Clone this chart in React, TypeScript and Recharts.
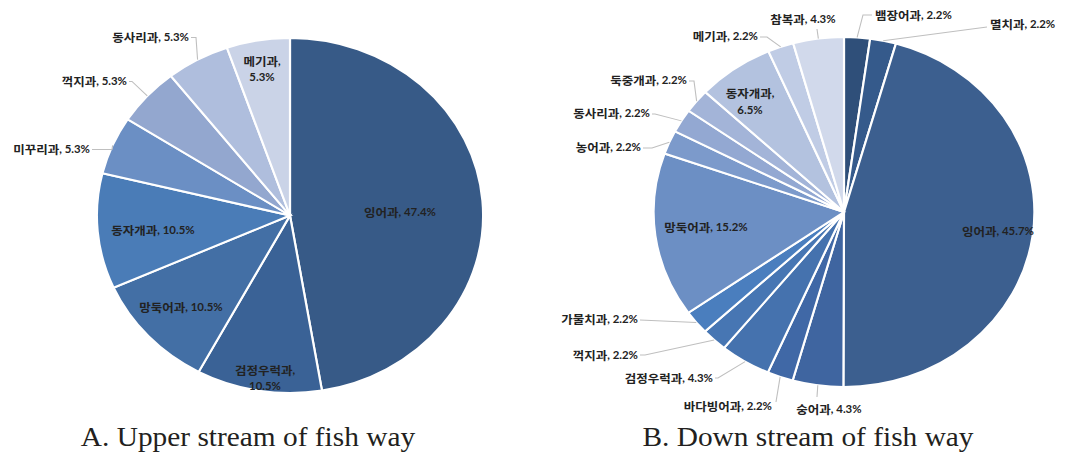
import { PieChart, Pie, Cell } from 'recharts';

// the figure is drawn narrow and stretched sideways, so the pies come out oval
const STRETCH = 1.088;
const FULL_W = 1066;
const FULL_H = 454;
const W = FULL_W / STRETCH;

const upperNames = ['잉어과', '검정우럭과', '망둑어과', '동자개과', '미꾸리과', '꺽지과', '동사리과', '메기과'];
const upperValues = [47.4, 10.5, 10.5, 10.5, 5.3, 5.3, 5.3, 5.3];
const upperColors = ['#375A87', '#3A6296', '#436FA5', '#4A7CB7', '#6B8FC4', '#93A7CF', '#AFBEDD', '#CAD3E7'];

const downNames = [
  '뱀장어과', '멸치과', '잉어과', '숭어과', '바다빙어과', '검정우럭과', '꺽지과', '가물치과',
  '망둑어과', '농어과', '동사리과', '둑중개과', '동자개과', '메기과', '참복과',
];
const downValues = [2.2, 2.2, 45.7, 4.3, 2.2, 4.3, 2.2, 2.2, 15.2, 2.2, 2.2, 2.2, 6.5, 2.2, 4.3];
const downColors = [
  '#2F4F79', '#355A8B', '#3C5F8F', '#3F65A0', '#4068A6', '#4572AE', '#4776B3', '#4A7EBE',
  '#6C8FC4', '#7C9ACB', '#93A8D2', '#A3B4D8', '#B3C2DF', '#C0CCE5', '#D1D9EB',
];

const titles = ['A. Upper stream of fish way', 'B. Down stream of fish way'];

type Spot = {
  x: number;
  y: number;
  anchor: 'start' | 'middle' | 'end';
  twoLine?: boolean;
  path?: [number, number][];
};

// label placement, in page pixels from the pie centre
const upperSpots: Spot[] = [
  { x: 110, y: -4, anchor: 'middle' },
  { x: -25, y: 162, anchor: 'middle', twoLine: true },
  { x: -109, y: 91, anchor: 'middle' },
  { x: -137, y: 14, anchor: 'middle' },
  { x: -200, y: -67, anchor: 'end', path: [[-178, -66], [-198, -66]] },
  { x: -163, y: -135, anchor: 'end', path: [[-158, -134], [-161, -134]] },
  { x: -101, y: -179, anchor: 'end', path: [[-94, -178], [-99, -178]] },
  { x: -28, y: -147, anchor: 'middle', twoLine: true },
];

const downSpots: Spot[] = [
  { x: 31, y: -198, anchor: 'start', path: [[19, -197], [28, -197]] },
  { x: 146, y: -189, anchor: 'start', path: [[143, -185]] },
  { x: 154, y: 18, anchor: 'middle' },
  { x: -15, y: 196, anchor: 'middle', path: [[-27, 185]] },
  { x: -72, y: 193, anchor: 'end', path: [[-68, 190]] },
  { x: -131, y: 165, anchor: 'end', path: [[-126, 166], [-129, 166]] },
  { x: -206, y: 142, anchor: 'end', path: [[-199, 143], [-204, 143]] },
  { x: -206, y: 106, anchor: 'end', path: [[-204, 108]] },
  { x: -138, y: 14, anchor: 'middle' },
  { x: -203, y: -66, anchor: 'end', path: [[-192, -64], [-201, -64]] },
  { x: -194, y: -100, anchor: 'end', path: [[-189, -98], [-192, -98]] },
  { x: -157, y: -133, anchor: 'end', path: [[-150, -131], [-155, -131]] },
  { x: -94, y: -111, anchor: 'middle', twoLine: true },
  { x: -86, y: -177, anchor: 'end', path: [[-77, -175], [-84, -175]] },
  { x: -41, y: -194, anchor: 'middle', path: [[-27, -183]] },
];

const RAD = Math.PI / 180;
const nameFont = { fontFamily: "'Noto Sans CJK KR', sans-serif", fontSize: 11.5 };
const numFont = { fontFamily: 'Lato, sans-serif', fontSize: 10.5 };

function makeLabel(names: string[], values: number[], spots: Spot[]) {
  return (props: any) => {
    const { cx, cy, midAngle, outerRadius, index } = props;
    const spot = spots[index];
    const tx = cx + spot.x / STRETCH;
    const ty = cy + spot.y;
    const pct = `${values[index].toFixed(1)}%`;

    let leader = null;
    if (spot.path) {
      const ex = cx + outerRadius * Math.cos(-midAngle * RAD);
      const ey = cy + outerRadius * Math.sin(-midAngle * RAD);
      const pts = [[ex, ey], ...spot.path.map(([px, py]) => [cx + px / STRETCH, cy + py])];
      leader = (
        <polyline
          points={pts.map((p) => p.join(',')).join(' ')}
          fill="none"
          stroke="#BFBFBF"
          strokeWidth={1}
        />
      );
    }

    const common = {
      textAnchor: spot.anchor,
      dominantBaseline: 'central' as const,
      fontWeight: 700,
      fill: '#222222',
    };

    return (
      <g key={`lbl-${index}`}>
        {leader}
        {spot.twoLine ? (
          <>
            <text x={tx} y={ty - 8.5} {...common}>
              <tspan {...nameFont}>{names[index]}</tspan>
              <tspan {...numFont}>,</tspan>
            </text>
            <text x={tx} y={ty + 8.5} {...common} {...numFont}>
              {pct}
            </text>
          </>
        ) : (
          <text x={tx} y={ty} {...common}>
            <tspan {...nameFont}>{names[index]}</tspan>
            <tspan {...numFont}>{`, ${pct}`}</tspan>
          </text>
        )}
      </g>
    );
  };
}

const upperData = upperNames.map((name, i) => ({ name, value: upperValues[i] }));
const downData = downNames.map((name, i) => ({ name, value: downValues[i] }));

export default function App() {
  return (
    <div
      style={{
        position: 'absolute',
        left: 0,
        top: 0,
        width: FULL_W,
        height: FULL_H,
        background: '#fff',
        overflow: 'hidden',
      }}
    >
      <div
        style={{
          position: 'relative',
          width: W,
          height: FULL_H,
          transform: `scaleX(${STRETCH})`,
          transformOrigin: '0 0',
        }}
      >
        <PieChart width={W} height={FULL_H} margin={{ top: 0, right: 0, bottom: 0, left: 0 }}>
          <Pie
            data={upperData}
            dataKey="value"
            nameKey="name"
            cx={290 / STRETCH}
            cy={215.5}
            outerRadius={177.5}
            startAngle={90}
            endAngle={-270}
            stroke="#FFFFFF"
            strokeWidth={2}
            label={makeLabel(upperNames, upperValues, upperSpots)}
            labelLine={false}
            isAnimationActive={false}
          >
            {upperData.map((d, i) => (
              <Cell key={d.name} fill={upperColors[i]} />
            ))}
          </Pie>
          <Pie
            data={downData}
            dataKey="value"
            nameKey="name"
            cx={844 / STRETCH}
            cy={212}
            outerRadius={175}
            startAngle={90}
            endAngle={-270}
            stroke="#FFFFFF"
            strokeWidth={2}
            label={makeLabel(downNames, downValues, downSpots)}
            labelLine={false}
            isAnimationActive={false}
          >
            {downData.map((d, i) => (
              <Cell key={d.name} fill={downColors[i]} />
            ))}
          </Pie>
        </PieChart>
        <svg
          width={W}
          height={FULL_H}
          style={{ position: 'absolute', left: 0, top: 0, pointerEvents: 'none' }}
        >
          {titles.map((t, i) => (
            <text
              key={t}
              x={(i === 0 ? 248 : 808) / STRETCH}
              y={446}
              textAnchor="middle"
              fontFamily="'Liberation Serif', serif"
              fontSize={27}
              fill="#231F20"
            >
              {t}
            </text>
          ))}
        </svg>
      </div>
    </div>
  );
}
